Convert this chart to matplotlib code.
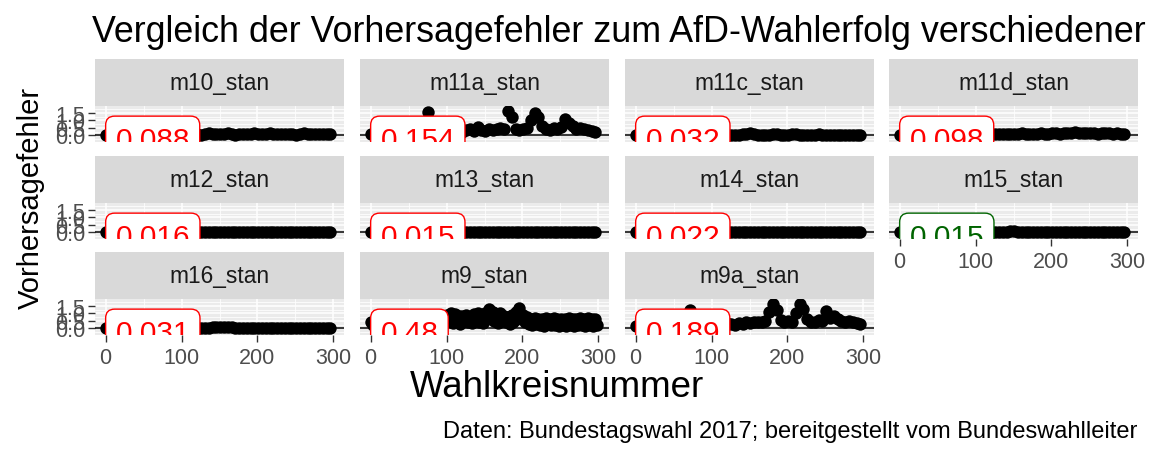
import numpy as np
import matplotlib.pyplot as plt
from matplotlib.ticker import MultipleLocator

plt.rcParams['font.family'] = ['Liberation Sans', 'DejaVu Sans']

# Wahlkreis positions (every 5th district), second layer shifted by 2
wahlkreis = np.arange(1, 300, 5)
wahlkreis_b = np.arange(3, 300, 5)

m10 = [0.05, 0.08, 0.12, 0.06, 0.10, 0.09, 0.07, 0.11, 0.13, 0.08,
       0.06, 0.10, 0.09, 0.12, 0.07, 0.05, 0.11, 0.08, 0.10, 0.14,
       0.09, 0.07, 0.12, 0.10, 0.08, 0.06, 0.11, 0.13, 0.09, 0.07,
       0.10, 0.12, 0.15, 0.08, 0.06, 0.09, 0.11, 0.10, 0.07, 0.13,
       0.12, 0.08, 0.10, 0.16, 0.09, 0.07, 0.11, 0.08, 0.12, 0.10,
       0.06, 0.09, 0.13, 0.11, 0.08, 0.10, 0.07, 0.12, 0.09, 0.08]
m11a = [0.10, 0.15, 0.20, 0.12, 0.25, 0.18, 0.10, 0.22, 0.15, 0.30,
        0.20, 0.25, 0.30, 0.35, 0.45, 1.57, 0.30, 0.20, 0.25, 0.15,
        0.20, 0.25, 0.30, 0.20, 0.25, 0.35, 0.40, 0.30, 0.55, 0.35,
        0.30, 0.40, 0.35, 0.45, 0.50, 0.40, 1.63, 1.25, 0.45, 0.35,
        0.40, 0.50, 1.00, 1.50, 1.20, 0.60, 0.45, 0.35, 0.50, 0.40,
        0.55, 1.10, 0.80, 0.60, 0.45, 0.50, 0.40, 0.35, 0.30, 0.25]
m11c = [0.02, 0.03, 0.01, 0.04, 0.02, 0.03, 0.02, 0.05, 0.03, 0.02,
        0.04, 0.02, 0.03, 0.01, 0.03, 0.04, 0.02, 0.03, 0.05, 0.02,
        0.03, 0.02, 0.04, 0.03, 0.06, 0.04, 0.03, 0.05, 0.08, 0.10,
        0.17, 0.12, 0.06, 0.04, 0.05, 0.03, 0.08, 0.10, 0.06, 0.04,
        0.05, 0.09, 0.07, 0.04, 0.03, 0.06, 0.05, 0.04, 0.07, 0.05,
        0.04, 0.06, 0.03, 0.05, 0.04, 0.03, 0.05, 0.04, 0.03, 0.02]
m11d = [0.06, 0.09, 0.07, 0.10, 0.08, 0.11, 0.07, 0.09, 0.10, 0.08,
        0.07, 0.10, 0.09, 0.08, 0.11, 0.09, 0.07, 0.10, 0.08, 0.09,
        0.10, 0.08, 0.11, 0.09, 0.12, 0.10, 0.08, 0.11, 0.09, 0.10,
        0.12, 0.10, 0.13, 0.11, 0.09, 0.12, 0.10, 0.14, 0.11, 0.12,
        0.15, 0.13, 0.11, 0.16, 0.18, 0.14, 0.20, 0.16, 0.13, 0.15,
        0.17, 0.14, 0.12, 0.16, 0.13, 0.15, 0.12, 0.14, 0.11, 0.10]
m12 = [0.01, 0.02, 0.01, 0.03, 0.02, 0.01, 0.02, 0.03, 0.01, 0.02,
       0.02, 0.01, 0.03, 0.02, 0.01, 0.02, 0.03, 0.02, 0.01, 0.02,
       0.03, 0.02, 0.01, 0.02, 0.03, 0.02, 0.04, 0.03, 0.05, 0.04,
       0.06, 0.05, 0.04, 0.03, 0.02, 0.03, 0.04, 0.02, 0.03, 0.02,
       0.01, 0.02, 0.03, 0.02, 0.01, 0.02, 0.03, 0.02, 0.01, 0.02,
       0.02, 0.01, 0.02, 0.03, 0.01, 0.02, 0.01, 0.02, 0.01, 0.01]
m13 = [0.01, 0.02, 0.01, 0.02, 0.01, 0.02, 0.01, 0.03, 0.01, 0.02,
       0.01, 0.02, 0.01, 0.02, 0.01, 0.01, 0.02, 0.01, 0.02, 0.01,
       0.02, 0.03, 0.02, 0.01, 0.02, 0.03, 0.02, 0.03, 0.04, 0.03,
       0.04, 0.03, 0.02, 0.03, 0.02, 0.03, 0.04, 0.02, 0.03, 0.02,
       0.02, 0.01, 0.02, 0.03, 0.02, 0.01, 0.02, 0.01, 0.02, 0.01,
       0.01, 0.02, 0.01, 0.02, 0.01, 0.02, 0.01, 0.01, 0.02, 0.01]
m14 = [0.02, 0.03, 0.02, 0.01, 0.03, 0.02, 0.02, 0.03, 0.01, 0.02,
       0.03, 0.02, 0.02, 0.03, 0.01, 0.02, 0.03, 0.02, 0.02, 0.03,
       0.02, 0.03, 0.02, 0.04, 0.03, 0.02, 0.03, 0.04, 0.05, 0.04,
       0.06, 0.05, 0.04, 0.05, 0.03, 0.04, 0.06, 0.04, 0.03, 0.02,
       0.03, 0.02, 0.03, 0.02, 0.03, 0.02, 0.01, 0.02, 0.03, 0.02,
       0.02, 0.03, 0.02, 0.01, 0.02, 0.03, 0.02, 0.02, 0.01, 0.02]
m15 = [0.01, 0.02, 0.01, 0.02, 0.01, 0.02, 0.01, 0.02, 0.01, 0.02,
       0.01, 0.02, 0.01, 0.01, 0.02, 0.01, 0.02, 0.01, 0.02, 0.01,
       0.02, 0.01, 0.02, 0.01, 0.02, 0.03, 0.02, 0.03, 0.05, 0.07,
       0.08, 0.06, 0.04, 0.03, 0.02, 0.03, 0.02, 0.03, 0.02, 0.01,
       0.02, 0.01, 0.02, 0.01, 0.02, 0.01, 0.02, 0.01, 0.02, 0.01,
       0.01, 0.02, 0.01, 0.02, 0.01, 0.02, 0.01, 0.02, 0.01, 0.01]
m16 = [0.02, 0.03, 0.02, 0.04, 0.03, 0.02, 0.03, 0.04, 0.02, 0.03,
       0.03, 0.02, 0.04, 0.03, 0.02, 0.03, 0.04, 0.03, 0.02, 0.03,
       0.03, 0.04, 0.03, 0.02, 0.04, 0.03, 0.05, 0.06, 0.08, 0.10,
       0.12, 0.11, 0.09, 0.07, 0.05, 0.04, 0.03, 0.04, 0.03, 0.02,
       0.03, 0.04, 0.03, 0.02, 0.03, 0.04, 0.03, 0.02, 0.03, 0.04,
       0.03, 0.02, 0.03, 0.04, 0.03, 0.02, 0.03, 0.02, 0.03, 0.02]
m9 = [0.45, 0.20, 0.35, 0.15, 0.40, 0.25, 0.30, 0.20, 0.45, 0.35,
      0.40, 0.30, 0.50, 0.35, 0.60, 0.45, 0.30, 0.55, 0.40, 0.70,
      0.90, 1.00, 0.95, 0.80, 0.85, 0.90, 0.75, 0.95, 1.00, 0.85,
      1.05, 1.30, 1.10, 0.90, 1.00, 0.85, 0.75, 0.90, 1.10, 1.35,
      0.90, 0.75, 0.65, 0.70, 0.65, 0.60, 0.70, 0.65, 0.70, 0.60,
      0.65, 0.60, 0.70, 0.65, 0.60, 0.70, 0.65, 0.70, 0.60, 0.65]
# lower layer of m9, fills the band down to zero
m9_b = [0.20, 0.10, 0.25, 0.15, 0.20, 0.10, 0.25, 0.15, 0.20, 0.30,
        0.25, 0.15, 0.30, 0.20, 0.35, 0.25, 0.20, 0.30, 0.25, 0.40,
        0.50, 0.35, 0.60, 0.30, 0.55, 0.40, 0.35, 0.50, 0.45, 0.35,
        0.60, 0.70, 0.50, 0.35, 0.55, 0.40, 0.30, 0.45, 0.60, 0.70,
        0.40, 0.30, 0.20, 0.30, 0.25, 0.15, 0.30, 0.20, 0.25, 0.15,
        0.20, 0.15, 0.25, 0.15, 0.20, 0.25, 0.15, 0.20, 0.15, 0.25]
m9a = [0.15, 0.20, 0.25, 0.15, 0.30, 0.20, 0.25, 0.15, 0.20, 0.30,
       0.25, 0.35, 0.30, 0.40, 1.23, 0.45, 0.30, 0.20, 0.25, 0.20,
       0.25, 0.20, 0.30, 0.25, 0.35, 0.30, 0.25, 0.35, 0.30, 0.40,
       0.35, 0.40, 0.45, 0.40, 0.50, 1.10, 1.65, 1.20, 0.55, 0.45,
       0.50, 0.45, 1.00, 1.65, 1.30, 0.60, 0.45, 0.40, 0.55, 0.50,
       1.17, 0.70, 0.85, 0.60, 0.50, 0.45, 0.50, 0.40, 0.35, 0.30]

models = ["m10_stan", "m11a_stan", "m11c_stan", "m11d_stan", "m12_stan", "m13_stan",
          "m14_stan", "m15_stan", "m16_stan", "m9_stan", "m9a_stan"]
series = [m10, m11a, m11c, m11d, m12, m13, m14, m15, m16, m9, m9a]
extra = {"m9_stan": m9_b}
fehler_labels = ["0.088", "0.154", "0.032", "0.098", "0.016", "0.015",
                 "0.022", "0.015", "0.031", "0.48", "0.189"]
label_colors = ["red"] * 7 + ["darkgreen"] + ["red"] * 3

W, H = 1152, 460
fig = plt.figure(figsize=(W / 100, H / 100), dpi=100)


def rect(x, y_top, w, h):
    return [x / W, 1 - (y_top + h) / H, w / W, h / H]


col_left = [95, 360, 625, 889]
strip_top = [60, 157, 253]
pw, sh, ph = 249, 47, 35.5

for k, (name, vals) in enumerate(zip(models, series)):
    r, c = divmod(k, 4)
    ax = fig.add_axes(rect(col_left[c], strip_top[r] + sh, pw, ph))
    ax.set_facecolor('#EBEBEB')
    ax.set_xlim(-14, 314)
    ax.set_ylim(-0.4, 1.95)
    ax.xaxis.set_major_locator(MultipleLocator(100))
    ax.xaxis.set_minor_locator(MultipleLocator(50))
    ax.yaxis.set_major_locator(MultipleLocator(0.5))
    ax.yaxis.set_minor_locator(MultipleLocator(0.25))
    ax.yaxis.set_major_formatter(lambda v, p: f"{v:.1f}")
    ax.grid(which='major', color='white', lw=1.1)
    ax.grid(which='minor', color='white', lw=0.55)
    ax.set_axisbelow(True)
    for s in ax.spines.values():
        s.set_visible(False)
    ax.axhline(0, color='black', lw=1.1, zorder=2)
    ax.scatter(wahlkreis, vals, s=80, color='black', lw=0, zorder=3)
    if name in extra:
        ax.scatter(wahlkreis_b, extra[name], s=80, color='black', lw=0, zorder=3)
    ax.text(13, -0.3, fehler_labels[k], ha='left', va='center', fontsize=21.5,
            color=label_colors[k], clip_on=True, zorder=4,
            bbox=dict(boxstyle='round,pad=0.33,rounding_size=0.3',
                      fc='white', ec=label_colors[k], lw=1.0))

    show_x = r == 2 or (r == 1 and c == 3)
    show_y = c == 0
    ax.tick_params(which='minor', length=0)
    ax.tick_params(which='major', length=5, width=1, color='#333333',
                   labelsize=15.5, labelcolor='#4D4D4D', pad=2,
                   bottom=show_x, labelbottom=show_x,
                   left=show_y, labelleft=show_y)
    ax.tick_params(axis='x', pad=4)

    sax = fig.add_axes(rect(col_left[c], strip_top[r], pw, sh))
    sax.set_facecolor('#D9D9D9')
    sax.set_xticks([])
    sax.set_yticks([])
    for s in sax.spines.values():
        s.set_visible(False)
    sax.text(0.5, 0.5, name, ha='center', va='center', fontsize=16.4,
             color='#1A1A1A', transform=sax.transAxes)

fig.text(92 / W, 1 - 33 / H, "Vergleich der Vorhersagefehler zum AfD-Wahlerfolg verschiedener",
         ha='left', va='center', fontsize=25.8)
fig.text(557 / W, 1 - 388 / H, "Wahlkreisnummer", ha='center', va='center', fontsize=26.5)
fig.text(31 / W, 1 - 198 / H, "Vorhersagefehler", ha='center', va='center',
         rotation=90, fontsize=21)
fig.text(1137 / W, 1 - 432 / H, "Daten: Bundestagswahl 2017; bereitgestellt vom Bundeswahlleiter",
         ha='right', va='center', fontsize=17)

fig.savefig('out.png', dpi=100)
